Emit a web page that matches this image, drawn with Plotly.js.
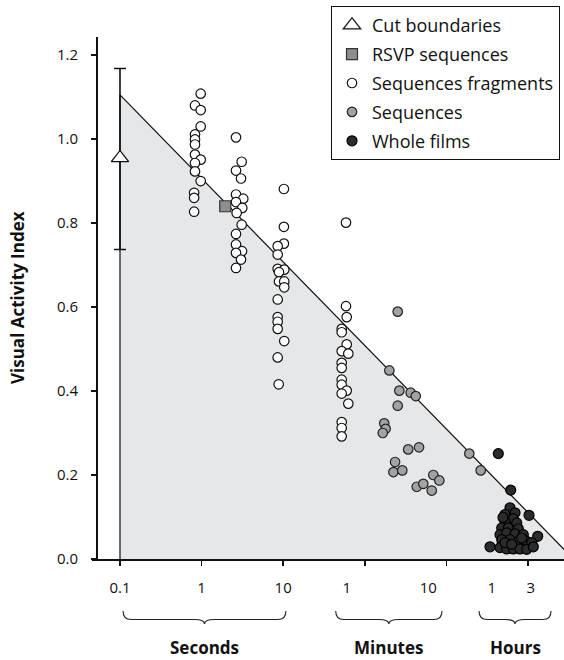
<!DOCTYPE html>
<html><head><meta charset="utf-8">
<script src="https://cdn.plot.ly/plotly-3.0.1.min.js"></script>
<style>html,body{margin:0;padding:0;background:#fff}#chart{width:564px;height:660px}</style>
</head><body><div id="chart"></div>
<script>
// All durations are in seconds (log axis)
const cutX = [0.1];
const cutY = [0.955];
const cutErrPlus = [0.213];
const cutErrMinus = [0.218];

const rsvpX = [1.95];
const rsvpY = [0.840];

const fragX = [
  0.975,0.83,0.975,0.975,0.83,0.83,0.83,0.83,0.975,0.83,0.83,0.975,0.81,0.81,0.81,
  2.64,3.10,2.64,3.04,2.64,3.24,2.64,3.15,2.69,3.10,2.64,2.64,3.13,2.64,3.04,2.64,
  10.2,10.2,10.2,8.56,8.56,8.56,10.3,8.88,8.88,10.3,10.3,8.56,8.56,8.56,8.56,10.3,8.56,8.81,
  58.8,58.8,60,52.1,52.1,60,52.1,62.8,52.1,52.1,52.1,52.1,60,52.1,62.8,52.1,52.1,52.1
];
const fragY = [
  1.108,1.080,1.069,1.030,1.011,0.999,0.987,0.963,0.951,0.943,0.923,0.900,0.872,0.860,0.827,
  1.004,0.946,0.925,0.906,0.868,0.858,0.850,0.836,0.824,0.796,0.774,0.749,0.733,0.729,0.713,0.693,
  0.881,0.791,0.751,0.745,0.725,0.691,0.689,0.683,0.661,0.661,0.647,0.618,0.576,0.565,0.548,0.519,0.480,0.416,
  0.801,0.602,0.576,0.548,0.540,0.511,0.495,0.489,0.467,0.455,0.427,0.415,0.401,0.394,0.370,0.326,0.312,0.292
];

const seqX = [253,200,265,365,421,253,173,180,166,340,462,235,224,288,691,819,433,521,661,1908,2633];
const seqY = [0.589,0.449,0.401,0.396,0.388,0.365,0.323,0.310,0.300,0.261,0.266,0.231,0.207,0.211,0.200,0.187,0.172,0.179,0.163,0.251,0.211];

const filmX = [4325,6140,10290,13150,3422,6016,6928,5226,6604,5226,7271,4761,5737,7605,4539,5483,6928,8759,
  4761,6016,7605,9641,11100,4539,5483,6604,7980,9641,11610,5226,8372,6310,4940];
const filmY = [0.251,0.164,0.104,0.054,0.029,0.122,0.110,0.106,0.096,0.090,0.086,0.074,0.074,0.072,0.058,0.062,0.060,0.058,
  0.046,0.046,0.042,0.042,0.039,0.027,0.024,0.024,0.024,0.023,0.029,0.039,0.050,0.035,0.099];

// Limit line: from cut boundary to where it reaches zero
const limitX = [0.1, 0.1, 36000];
const limitY = [0, 1.105, 0];

// Axis ticks
const decadeTicks = [0.1, 1, 10, 100, 1000, 10000];
const xLabelVals = [0.1, 1, 10, 60, 600, 3600, 10800];
const xLabelText = ['0.1', '1', '10', '1', '10', '1', '3'];
const yTicks = [0, 0.2, 0.4, 0.6, 0.8, 1.0, 1.2];

// Unit groups (braces under the axis), in seconds
const unitNames = ['Seconds', 'Minutes', 'Hours'];
const unitStart = [0.109, 44, 2513];
const unitEnd = [10.8, 883, 19140];

const FONT = '"Open Sans", "DejaVu Sans", sans-serif';
const W = 564, H = 660;
const M = {l: 92, r: 0, t: 37, b: 101};
const PW = W - M.l - M.r, PH = H - M.t - M.b;
const xRange = [-1.343, 4.441];
const yRange = [0, 1.243];

function lx(t) { return (Math.log10(t) - xRange[0]) / (xRange[1] - xRange[0]); }
function py(p) { return (H - M.b - p) / PH; } // pixel y -> paper y

const traces = [
  {x: limitX, y: limitY, type: 'scatter', mode: 'lines', fill: 'toself',
   fillcolor: '#e6e7e9', line: {color: '#111', width: 1.2}, showlegend: false, hoverinfo: 'skip'},
  {x: cutX, y: cutY, type: 'scatter', mode: 'markers', marker: {size: 1, opacity: 0},
   error_y: {type: 'data', symmetric: false, array: cutErrPlus, arrayminus: cutErrMinus,
             color: '#111', thickness: 1.6, width: 6}, showlegend: false, hoverinfo: 'skip'},
  {x: cutX, y: cutY, type: 'scatter', mode: 'markers', name: 'Cut boundaries', legendgroup: 'a',
   marker: {symbol: 'triangle-up', size: 15, color: '#fff', line: {color: '#111', width: 1.3}}},
  {x: rsvpX, y: rsvpY, type: 'scatter', mode: 'markers', name: 'RSVP sequences', legendgroup: 'b',
   marker: {symbol: 'square', size: 11, color: '#8e8e8e', line: {color: '#333', width: 1.2}}},
  {x: fragX, y: fragY, type: 'scatter', mode: 'markers', name: 'Sequences fragments', legendgroup: 'c',
   marker: {symbol: 'circle', size: 9.5, color: '#fff', line: {color: '#111', width: 1.2}}},
  {x: seqX, y: seqY, type: 'scatter', mode: 'markers', name: 'Sequences', legendgroup: 'd',
   marker: {symbol: 'circle', size: 9.5, color: '#a2a2a2', line: {color: '#222', width: 1.2}}},
  {x: filmX, y: filmY, type: 'scatter', mode: 'markers', name: 'Whole films', legendgroup: 'e',
   marker: {symbol: 'circle', size: 10, color: '#2b2b2b', line: {color: '#000', width: 1.2}}},
  // invisible trace to carry the label axis
  {x: [xLabelVals[0]], y: [0], xaxis: 'x2', type: 'scatter', mode: 'markers',
   marker: {opacity: 0}, showlegend: false, hoverinfo: 'skip'}
];

const shapes = [];
const annotations = [];
const yTop = 611, yMid = 619.5, yBot = 624, r = 8 / PW;
unitNames.forEach((name, i) => {
  const x0 = lx(unitStart[i]), x1 = lx(unitEnd[i]);
  const xc = (Math.log10(unitStart[i]) + Math.log10(unitEnd[i])) / 2;
  const xcP = (xc - xRange[0]) / (xRange[1] - xRange[0]);
  const rr = 10 / PW;
  const a = py(yTop), b = py(yMid), c = py(yBot);
  const path = `M ${x0} ${a} Q ${x0} ${b} ${x0 + r} ${b} L ${xcP - rr} ${b} Q ${xcP} ${b} ${xcP} ${c} ` +
               `Q ${xcP} ${b} ${xcP + rr} ${b} L ${x1 - r} ${b} Q ${x1} ${b} ${x1} ${a}`;
  shapes.push({type: 'path', xref: 'paper', yref: 'paper', path: path,
               line: {color: '#222', width: 1.1}});
  annotations.push({xref: 'x', yref: 'paper', x: xc, y: py(647), text: '<b>' + name + '</b>',
                    showarrow: false, xanchor: 'center', yanchor: 'middle',
                    font: {family: FONT, size: 17, color: '#111'}});
});
annotations.push({xref: 'paper', yref: 'paper', x: (17 - M.l) / PW, y: py(298),
                  text: '<b>Visual Activity Index</b>', textangle: -90, showarrow: false,
                  xanchor: 'center', yanchor: 'middle', font: {family: FONT, size: 17, color: '#111'}});

const layout = {
  width: W, height: H, margin: M,
  paper_bgcolor: '#fff', plot_bgcolor: 'rgba(0,0,0,0)',
  font: {family: FONT, color: '#111'},
  showlegend: true,
  legend: {x: (331 - M.l) / PW, y: py(6), xanchor: 'left', yanchor: 'top',
           bordercolor: '#111', borderwidth: 1, bgcolor: '#fff',
           font: {family: FONT, size: 18, color: '#111'},
           traceorder: 'grouped', tracegroupgap: 2.5},
  xaxis: {type: 'log', range: xRange, showgrid: false, zeroline: false,
          showline: true, linecolor: '#111', linewidth: 2,
          tickmode: 'array', tickvals: decadeTicks, ticktext: decadeTicks.map(() => ''),
          ticks: 'outside', ticklen: 5, tickwidth: 1.5, tickcolor: '#111'},
  xaxis2: {type: 'log', range: xRange, overlaying: 'x', anchor: 'y', side: 'bottom',
           showgrid: false, zeroline: false, showline: false, ticks: '',
           tickmode: 'array', tickvals: xLabelVals, ticktext: xLabelText,
           ticklabelstandoff: 18, tickfont: {family: FONT, size: 15, color: '#111'}},
  yaxis: {range: yRange, anchor: 'free', position: (97 - M.l) / PW,
          showgrid: false, zeroline: false, showline: true, linecolor: '#111', linewidth: 2,
          tickmode: 'array', tickvals: yTicks, tickformat: '.1f',
          ticks: 'outside', ticklen: 5, tickwidth: 1.5, tickcolor: '#111',
          ticklabelstandoff: 10, tickfont: {family: FONT, size: 15, color: '#111'}},
  shapes: shapes,
  annotations: annotations
};

Plotly.newPlot('chart', traces, layout, {displayModeBar: false, staticPlot: true});
</script>
</body></html>
